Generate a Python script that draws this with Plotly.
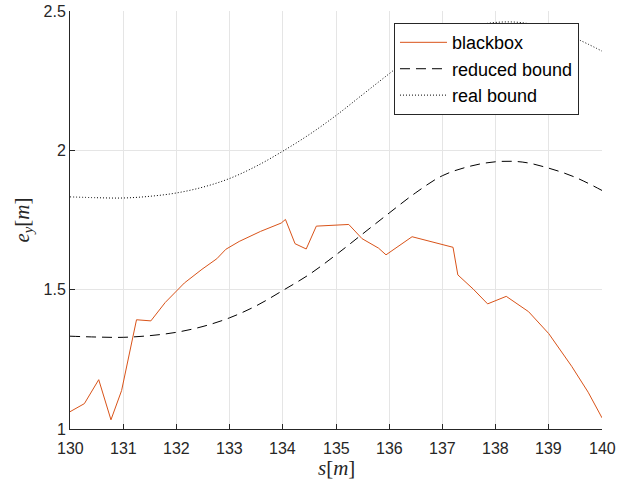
import plotly.graph_objects as go

# blackbox data (s, e_y)
bb_s = [130.0, 130.27, 130.54, 130.77, 130.97, 131.25, 131.52, 131.79, 132.15, 132.48,
        132.76, 132.93, 133.18, 133.58, 133.97, 134.05, 134.23, 134.44, 134.63, 135.08,
        135.24, 135.49, 135.80, 135.94, 136.43, 137.20, 137.29, 137.58, 137.85, 138.20,
        138.62, 139.00, 139.43, 139.74, 140.0]
bb_e = [1.062, 1.091, 1.177, 1.033, 1.138, 1.392, 1.388, 1.454, 1.524, 1.573,
        1.611, 1.645, 1.673, 1.709, 1.739, 1.752, 1.665, 1.646, 1.728, 1.733,
        1.734, 1.683, 1.649, 1.625, 1.690, 1.652, 1.553, 1.502, 1.449, 1.476,
        1.421, 1.342, 1.225, 1.132, 1.040]

# bounds sampled every 0.5 m
bound_s = [130.0, 130.5, 131.0, 131.5, 132.0, 132.5, 133.0, 133.5, 134.0, 134.5, 135.0,
           135.5, 136.0, 136.5, 137.0, 137.5, 138.0, 138.5, 139.0, 139.5, 140.0]
reduced = [1.333, 1.330, 1.329, 1.335, 1.347, 1.368, 1.399, 1.442, 1.497, 1.555, 1.625,
           1.700, 1.775, 1.848, 1.909, 1.942, 1.959, 1.958, 1.936, 1.903, 1.856]
real = [1.833, 1.830, 1.829, 1.835, 1.847, 1.868, 1.899, 1.943, 1.997, 2.057, 2.125,
        2.200, 2.275, 2.348, 2.409, 2.442, 2.459, 2.458, 2.436, 2.402, 2.356]

x_ticks = list(range(130, 141))
x_tick_labels = [str(t) for t in x_ticks]
y_ticks = [1, 1.5, 2, 2.5]
y_tick_labels = ["1", "1.5", "2", "2.5"]

fig = go.Figure()
fig.add_trace(go.Scatter(x=bb_s, y=bb_e, mode="lines", name="blackbox",
                         line=dict(color="#D95319", width=1)))
fig.add_trace(go.Scatter(x=bound_s, y=reduced, mode="lines", name="reduced bound",
                         line=dict(color="black", width=1, dash="10px,6px", shape="spline")))
fig.add_trace(go.Scatter(x=bound_s, y=real, mode="lines", name="real bound",
                         line=dict(color="black", width=1, dash="1px,2px", shape="spline")))

tick_font = dict(family="Liberation Sans, Arial, sans-serif", size=16, color="#262626")
axis_common = dict(
    showgrid=True, gridcolor="#e5e5e5", gridwidth=1,
    showline=True, linecolor="#262626", linewidth=1,
    ticks="inside", ticklen=5, tickcolor="#262626",
    tickfont=tick_font, zeroline=False, mirror=False, automargin=False,
)
title_font = dict(family="Liberation Serif, Times New Roman, serif", size=21, color="#262626")

# x tick labels placed with the x axis scale, slightly lower than plotly's default
annotations = [dict(text=lab, x=t, xref="x", y=-0.046, yref="paper",
                    xanchor="center", yanchor="middle", showarrow=False, font=tick_font)
               for t, lab in zip(x_ticks, x_tick_labels)]
annotations.append(dict(text="<i>s</i>[<i>m</i>]", xref="paper", yref="paper",
                        x=0.5, y=-0.094, xanchor="center", yanchor="middle",
                        showarrow=False, font=title_font))

fig.update_layout(
    width=635, height=483,
    margin=dict(l=69.5, r=33, t=11, b=53.5),
    paper_bgcolor="white", plot_bgcolor="white",
    xaxis=dict(range=[130, 140], tickvals=x_ticks, showticklabels=False, **axis_common),
    yaxis=dict(range=[1, 2.5], tickvals=y_ticks, ticktext=y_tick_labels, **axis_common,
               title=dict(text="<i>e<sub>y</sub></i>[<i>m</i>]", font=title_font, standoff=8)),
    legend=dict(x=0.609, y=0.971, xanchor="left", yanchor="top",
                bgcolor="white", bordercolor="#262626", borderwidth=1,
                font=dict(family="Liberation Sans, Arial, sans-serif", size=18, color="black"),
                itemwidth=47, entrywidth=190, tracegroupgap=0),
    annotations=annotations,
    showlegend=True,
)

fig.write_html("out.html")
